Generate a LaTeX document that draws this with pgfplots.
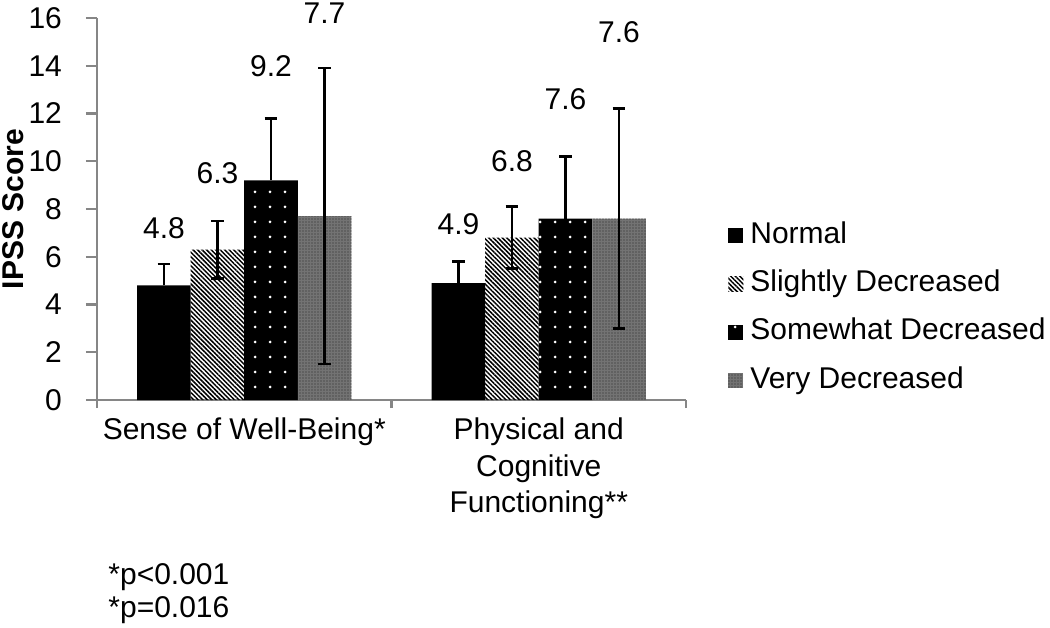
\documentclass[border=0pt]{standalone}
\usepackage{fontspec}
\setmainfont{Liberation Sans}
\usepackage{pgfplots}
\usepackage{pgfplotstable}
\pgfplotsset{compat=1.18}
\usetikzlibrary{patterns.meta}
\definecolor{axisgray}{RGB}{134,134,134}

\pgfplotstableread{
x y lab
-0.272727 7.2 4.8
-0.090909 9.5 6.3
0.090909 14.0 9.2
0.272727 16.2 7.7
0.727273 7.35 4.9
0.909091 10.0 6.8
1.090909 12.6 7.6
1.272727 15.4 7.6
}\labeltable

\pgfplotsset{
  sqlegend/.style={legend image code/.code={\draw[##1,draw=none] (0pt,-3.75pt) rectangle (7.5pt,3.75pt);}},
  errstyle/.style={error bars/.cd, y explicit, y dir=#1,
     error bar style={draw=black, line width=1.3pt, solid},
     error mark options={draw=black, rotate=90, mark size=3.2pt, line width=1.3pt}},
}

\begin{document}
\begin{tikzpicture}
\path[use as bounding box] (-48.5pt,-113.5pt) rectangle (476.5pt,200pt);
\begin{axis}[
  at={(0,0)}, anchor=south west,
  width=294.5pt, height=191pt, scale only axis,
  xmin=-0.5, xmax=1.5, ymin=0, ymax=16,
  clip=false,
  axis x line*=bottom, axis y line*=left,
  axis line style={draw=axisgray, line width=1.2pt, -},
  ytick={0,2,...,16},
  xtick={0,1},
  xticklabels={Sense of Well-Being*, {Physical and\\Cognitive\\Functioning**}},
  minor xtick={-0.5,0.5,1.5},
  tick align=outside,
  major tick length=5.5pt,
  minor tick length=4pt,
  major x tick style={draw=none},
  major y tick style={draw=axisgray, line width=1.2pt},
  minor x tick style={draw=axisgray, line width=1.2pt},
  /pgf/number format/assume math mode=true,
  tick label style={font=\fontsize{15}{18.25}\selectfont},
  xticklabel style={align=center, anchor=north},
  yticklabel style={xshift=-8.5pt},
  ylabel={\bfseries IPSS Score},
  ylabel style={font=\fontsize{15}{18}\selectfont, at={(axis description cs:-0.1426,0.5)}, anchor=center},
  legend style={draw=none, fill=none, at={(1.0713,0.4953)}, anchor=north west,
     font=\fontsize{15}{18}\selectfont, row sep=0pt, inner sep=0pt,
     nodes={inner xsep=0pt, inner ysep=5.1pt, text height=10.8pt, text depth=3.2pt},
     column sep=3.5pt},
  legend cell align=left,
]
\addplot[ybar, bar width=0.181818, bar shift=0pt, fill=black, draw=none, sqlegend, errstyle=plus]
  coordinates {(-0.272727,4.8) +- (0,0.9) (0.727273,4.9) +- (0,0.9)};
\addlegendentry{Normal}
\addplot[ybar, bar width=0.181818, bar shift=0pt, draw=none,
  pattern={Lines[angle=-45, distance=1.6pt, line width=0.75pt]}, pattern color=black, sqlegend, errstyle=both]
  coordinates {(-0.090909,6.3) +- (0,1.2) (0.909091,6.8) +- (0,1.3)};
\addlegendentry{Slightly Decreased}
\addplot[ybar, bar width=0.181818, bar shift=0pt, fill=black, draw=none,
  postaction={pattern={Dots[distance=7.5pt, radius=0.75pt]}, pattern color=white}, sqlegend, errstyle=plus]
  coordinates {(0.090909,9.2) +- (0,2.6) (1.090909,7.6) +- (0,2.6)};
\addlegendentry{Somewhat Decreased}
\addplot[ybar, bar width=0.181818, bar shift=0pt, fill=black!55, draw=none,
  postaction={pattern={Dots[distance=1.5pt, radius=0.35pt]}, pattern color=black!85}, sqlegend, errstyle=both]
  coordinates {(0.272727,7.7) +- (0,6.2) (1.272727,7.6) +- (0,4.6)};
\addlegendentry{Very Decreased}
\addplot[forget plot, only marks, mark=none, nodes near coords, point meta=explicit symbolic,
  nodes near coords style={anchor=center, font=\fontsize{15}{18}\selectfont}]
  table[x=x, y=y, meta=lab] {\labeltable};
\end{axis}
\node[anchor=west, font=\fontsize{15}{18}\selectfont, inner sep=0pt] at (5.5pt,-88.5pt) {*p<0.001};
\node[anchor=west, font=\fontsize{15}{18}\selectfont, inner sep=0pt] at (5.5pt,-105pt) {*p=0.016};
\end{tikzpicture}
\end{document}
